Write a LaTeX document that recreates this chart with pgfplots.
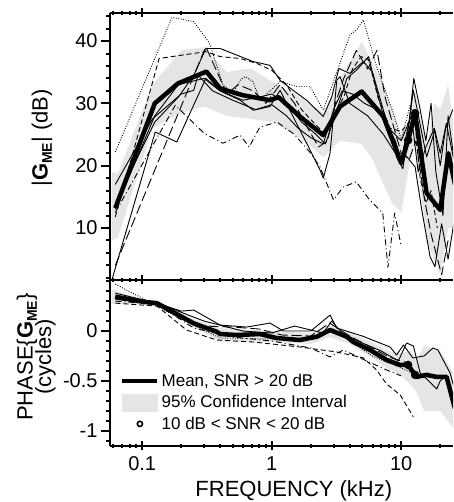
\documentclass[border=0pt]{standalone}
\usepackage{pgfplots}
\pgfplotsset{compat=1.18}
\usepackage{fontspec}
\setmainfont{Liberation Sans}
\newcommand\GME{\textbf{G}\raisebox{-0.35ex}{\fontsize{14}{14}\selectfont\textbf{ME}}}
\newcommand\lblfont{\fontsize{22}{18}\selectfont}
\tikzset{
 meanl/.style={line width=4.5pt, black, line join=round},
 thinl/.style={line width=0.9pt, black, line join=round},
 dotl/.style={thinl, dash pattern=on 0.9pt off 1.6pt},
 dashl/.style={thinl, dash pattern=on 5pt off 3pt},
 ldashl/.style={thinl, dash pattern=on 10pt off 4pt},
 ddl/.style={thinl, dash pattern=on 6pt off 3pt on 1pt off 3pt},
}
\pgfplotsset{every axis/.append style={
  scale only axis, width=343pt, xmin=0.0564, xmax=25.1,
  axis x line=box, axis y line=left,
  axis line style={-, line width=2.5pt, black},
  tick style={line width=2pt, black},
  major tick length=9pt, minor tick length=4pt,
  xtick align=center, ytick align=outside,
  xtick={0.1,1,10},
  minor xtick={0.06,0.07,0.08,0.09,0.2,0.3,0.4,0.5,0.6,0.7,0.8,0.9,2,3,4,5,6,7,8,9,20},
  tick label style={font=\fontsize{20}{24}\selectfont},
  xticklabel style={yshift=-3pt},
  /pgf/number format/assume math mode=true,
 }
}
\begin{document}
\begin{tikzpicture}
%%%%%%%%%%%%%% TOP: magnitude
\begin{axis}[xmode=log, at={(110pt,222pt)}, anchor=south west, height=267pt,
  ymin=1.66, ymax=44.5, xticklabels={},
  ytick={10,20,30,40},
  minor ytick={2,4,6,8,12,14,16,18,22,24,26,28,32,34,36,38,42,44},
  every axis y label/.style={at={(axis description cs:-0.198,0.532)}, rotate=90, anchor=center, font=\lblfont},
  ylabel={|\GME| (dB)}]
\addplot[fill=gray!20, draw=none] coordinates {
 (0.058,19) (0.065,18.8) (0.12,33) (0.2,38.5) (0.3,39) (0.45,35) (0.6,35.5) (0.7,35.5) (1.0,33.5) (1.65,31.1) (2.5,28.5) (3.37,34) (4.95,39.9) (7.3,33) (10,25) (11.3,27) (12.8,32) (15.7,23) (18,30) (20,29) (23,33) (26,25)
 (26,10) (23,10) (20,2.5) (15.7,8) (12.8,24) (11.3,19) (10,12.5) (8.5,14) (7.3,17) (6,21) (4.95,23.5) (3.37,24) (2.5,21.4) (1.65,24.5) (1.0,27) (0.7,27.5) (0.45,28) (0.3,29.5) (0.2,28.5) (0.12,26) (0.065,8.5) (0.058,8)};
% thin curves
\addplot[dotl] coordinates {(0.062,22.2) (0.17,43.8) (0.25,43.1) (0.33,39.7) (0.42,33) (0.5,31.5) (0.569,33.7) (0.622,34.3) (0.717,33.5) (0.812,30.5) (1.16,33.5) (1.56,32.7) (1.98,32.7) (2.5,28.9) (3.37,36.5) (4.02,41.0) (4.53,41.8) (5.1,43.4) (6.45,35.9) (8.7,28.4) (10.0,24.1) (11.7,29.7) (12.8,27)};
\addplot[thinl] coordinates {(0.062,14) (0.125,27) (0.19,31) (0.25,34.5) (0.31,38.8) (0.4,38.8) (0.5,38.0) (0.72,36.7) (0.97,36.1) (1.16,33.7) (1.46,32.1) (1.86,30.5) (2.5,27.9) (2.9,31) (3.3,35.6) (4.0,34.8) (5.1,36.7) (6.0,35) (7.5,28) (9.2,21.4) (10.3,19.5) (12.4,32.1) (15.7,21.4) (18.2,25.7) (20,22) (22.3,26.8) (26,20)};
\addplot[ldashl] coordinates {(0.062,4.0) (0.31,39.1) (0.45,31.5) (0.55,33) (0.72,32) (0.9,30) (1.16,33) (1.5,30) (1.9,26) (2.3,23) (2.7,24) (3.1,30) (3.6,34) (4.5,38.5) (5.5,35.5) (6.5,38.5) (7.5,31) (8.8,26) (10,22) (11.5,21) (13,24) (15,15) (17,9) (20.5,2.5) (23,8)};
\addplot[dashl] coordinates {(0.062,11.8) (0.135,37.2) (0.31,38.3) (0.4,37.5) (0.57,37.2) (0.77,36.4) (1.0,35.3) (1.3,33) (1.7,29) (2.2,26.5) (2.6,25) (3.0,28) (3.6,31) (4.2,35.5) (4.9,37.5) (5.6,37) (6.6,31) (8.2,26) (10,25.5) (11.5,27) (12.5,29) (14,18) (15.5,14) (17,16) (19,10)};
\addplot[ddl] coordinates {(0.062,12.5) (0.18,29.7) (0.3,25.2) (0.42,23.6) (0.57,24.9) (0.67,23.0) (0.81,26.2) (1.1,27) (1.5,25) (2.0,22) (2.36,19.8) (3.0,14.5) (3.57,16.6) (4.5,17.4) (5.7,14.5) (7.2,12.4) (7.9,3.7) (8.9,12.4) (10.0,7.0)};
\addplot[thinl] coordinates {(0.058,1.5) (0.126,25.4) (0.185,23.8) (0.31,34.0) (0.4,32) (0.57,30.5) (0.72,28.9) (0.97,29.5) (1.16,32.1) (1.38,28.9) (1.86,23.6) (2.36,19.3) (2.5,18.0) (2.82,22.0) (3.18,33.7) (3.37,34.3) (4,30) (5.5,28) (7.3,25) (9,22) (10.5,22) (12.8,19.8) (14.4,12.9) (16.7,5.4) (18.2,3.8) (20.5,10.7) (23,5) (26,12)};
\addplot[thinl] coordinates {(0.062,17) (0.12,27.5) (0.2,31.5) (0.25,32.1) (0.27,34.5) (0.35,32) (0.5,30.5) (0.75,29) (1.0,29.8) (1.3,28) (1.6,26) (2.0,24.5) (2.5,23.5) (3.0,29) (3.5,32) (4.2,31.5) (5.2,30) (6.5,29) (8,26) (10,24) (12,28) (13.5,19) (15.5,23) (18,26) (20,20) (22,26) (25,29)};
\addplot[thinl] coordinates {(0.062,13) (0.125,28) (0.19,33) (0.3,34) (0.4,32) (0.6,30.5) (0.8,31) (1.0,31.5) (1.3,30) (1.7,27) (2.2,25) (2.6,23.5) (3.2,29) (3.8,34) (4.6,35.5) (5.6,37.5) (6.3,33) (7.5,27) (9,24) (10,21) (11.5,27) (12.5,34) (14,29) (15.5,24) (17,30) (18.5,19) (21,12) (23,28) (26,20)};
% mean
\addplot[meanl] coordinates {(0.062,13.2) (0.125,30.0) (0.189,33.2) (0.313,35.1) (0.40,32.4) (0.46,32.0) (0.6,31.3) (0.97,30.5) (1.13,31.0) (1.65,27.9) (2.5,24.9) (3.37,29.5) (4.95,31.9) (7.28,27.9) (10.0,20.4) (11.3,24.1) (12.8,28.4) (15.7,15.6) (20.0,12.9) (23.1,22.0) (26,17)};
\addplot[only marks, mark=*, mark size=4pt, black] coordinates {(11.3,24.1) (12.8,28.4)};
\end{axis}
%%%%%%%%%%%%%% BOTTOM: phase
\begin{axis}[xmode=log, at={(110pt,56pt)}, anchor=south west, height=166pt,
  ymin=-1.153, ymax=0.512, xticklabels={0.1,1,10},
  ytick={-1,-0.5,0}, yticklabels={-1,-0.5,0},
  minor ytick={-1.1,-0.9,-0.8,-0.7,-0.6,-0.4,-0.3,-0.2,-0.1,0.1,0.2,0.3,0.4,0.5},
  every axis y label/.style={at={(axis description cs:-0.215,0.536)}, rotate=90, anchor=center, align=center, font=\lblfont},
  ylabel={PHASE\{\GME\}\\[-3pt](cycles)},
  every axis x label/.style={at={(axis description cs:0.536,-0.305)}, anchor=base, font=\lblfont},
  xlabel={FREQUENCY (kHz)},
  legend style={at={(axis description cs:0.029,0.445)}, anchor=north west, draw=none, fill=none, inner sep=0pt,
    font=\fontsize{17}{20}\selectfont, row sep=3.5pt, nodes={inner sep=2pt}},
  legend cell align=left]
\addplot[fill=gray!20, draw=none, forget plot] coordinates {
 (0.058,0.42) (0.1,0.32) (0.15,0.27) (0.25,0.12) (0.4,0.03) (1,0.0) (2,-0.02) (2.8,0.06) (4,-0.01) (6,-0.12) (8,-0.2) (10,-0.22) (12,-0.2) (13,-0.3) (15,-0.15) (20,-0.2) (26,-0.45)
 (26,-1.0) (20,-0.8) (15,-0.8) (13,-0.6) (12,-0.55) (10,-0.45) (8,-0.38) (6,-0.27) (4,-0.13) (2.8,-0.06) (2,-0.13) (1,-0.11) (0.4,-0.1) (0.25,0.04) (0.15,0.22) (0.1,0.27) (0.058,0.27)};
\addplot[thinl, forget plot] coordinates {(0.062,0.38) (0.13,0.28) (0.2,0.2) (0.25,0.21) (0.4,0.06) (0.64,0.04) (0.97,0.08) (1.23,0.0) (2.0,0.0) (2.82,0.16) (3.18,0.03) (5,-0.05) (8.2,-0.16) (9.2,-0.24) (10.4,-0.14) (12.3,-0.27) (15,-0.25) (17.6,-0.17) (19.2,-0.19) (23.8,-0.42) (26,-0.6)};
\addplot[dashl, forget plot] coordinates {(0.062,0.28) (0.13,0.25) (0.22,0.01) (0.376,-0.09) (0.72,-0.11) (1.65,-0.16) (3.18,-0.21) (5.1,-0.27) (6.45,-0.39) (7.7,-0.53) (9.8,-0.64) (12.4,-0.86)};
\addplot[dotl, forget plot] coordinates {(0.062,0.47) (0.1,0.33) (0.2,0.12) (0.4,-0.07) (1,-0.08) (2,-0.07) (3,0.02) (4,-0.1) (6,-0.25) (8,-0.32) (10,-0.37) (12,-0.42)};
\addplot[ddl, forget plot] coordinates {(0.062,0.3) (0.13,0.27) (0.25,0.03) (0.5,-0.06) (1,-0.1) (2,-0.17) (2.82,-0.26) (3.57,-0.19) (5,-0.28) (7.7,-0.39) (10,-0.45)};
\addplot[thinl, forget plot] coordinates {(0.062,0.35) (0.15,0.25) (0.3,0.1) (0.6,0.0) (1,-0.02) (1.5,0.05) (2.5,-0.02) (2.9,0.1) (3.5,-0.02) (5,-0.12) (7,-0.2) (9.5,-0.3) (11,-0.12) (12.4,-0.15) (14,-0.42) (16,-0.49) (18.8,-0.58) (20,-0.5) (22,-0.45) (24,-0.55)};
\addplot[ldashl, forget plot] coordinates {(0.062,0.32) (0.13,0.26) (0.2,0.15) (0.3,0.05) (0.5,0.04) (0.8,0.02) (1.2,-0.04) (2,-0.05) (2.8,0.08) (4,-0.05) (6,-0.17) (8,-0.26) (10,-0.3) (12,-0.33)};
\addplot[meanl, forget plot] coordinates {(0.062,0.345) (0.1,0.295) (0.13,0.28) (0.17,0.195) (0.25,0.077) (0.376,-0.007) (0.40,-0.03) (0.54,-0.04) (0.81,-0.03) (1.09,-0.07) (1.65,-0.09) (2.23,-0.057) (2.82,0.01) (3.8,-0.057) (4.27,-0.11) (5.75,-0.19) (7.7,-0.29) (9.8,-0.34) (11.3,-0.34) (13.1,-0.46) (15.7,-0.44) (18.8,-0.46) (22.4,-0.46) (26,-0.78)};
\addplot[only marks, mark=*, mark size=4pt, black, forget plot] coordinates {(11.3,-0.34) (12.8,-0.44)};
% legend
\addlegendimage{legend image code/.code={\draw[line width=4.5pt] (0pt,0pt) -- (35pt,0pt);}}
\addlegendentry{Mean, SNR > 20 dB}
\addlegendimage{legend image code/.code={\fill[gray!20] (0pt,-8.5pt) rectangle (35pt,8.5pt);}}
\addlegendentry{95\% Confidence Interval}
\addlegendimage{legend image code/.code={\draw[line width=1.6pt] (17.5pt,0pt) circle (2.6pt);}}
\addlegendentry{10 dB < SNR < 20 dB}
\end{axis}
\pgfresetboundingbox
\path (0pt,0pt) rectangle (453pt,502pt);
\end{tikzpicture}
\end{document}
